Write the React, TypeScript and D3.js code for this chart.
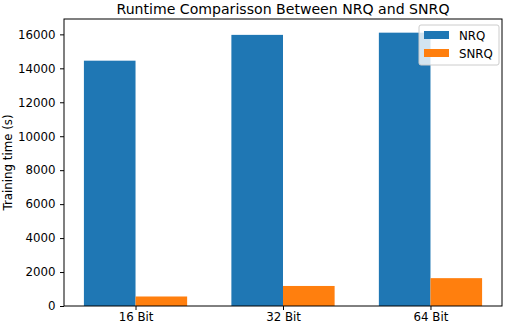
import React, { useEffect, useRef } from "react";
import * as d3 from "d3";

const categories = ["16 Bit", "32 Bit", "64 Bit"];
const series = ["NRQ", "SNRQ"];
const nrqValues = [14450, 15970, 16100];
const snrqValues = [560, 1180, 1640];
const yTicks = [0, 2000, 4000, 6000, 8000, 10000, 12000, 14000, 16000];
const colors = ["#1f77b4", "#ff7f0e"];

const W = 506;
const H = 326;
const FS = 11.8;

const App = () => {
  const ref = useRef<SVGSVGElement>(null);

  useEffect(() => {
    const svg = d3.select(ref.current);
    svg.selectAll("*").remove();

    const margin = { top: 19, right: 4, bottom: 20, left: 64 };
    const innerW = W - margin.left - margin.right;
    const innerH = H - margin.top - margin.bottom;
    const barW = 0.35;

    const x = d3.scaleLinear().domain([-0.485, 2.485]).range([0, innerW]);
    const y = d3.scaleLinear().domain([0, 16905]).range([innerH, 0]);

    const g = svg
      .append("g")
      .attr("transform", `translate(${margin.left},${margin.top})`);

    const allSeries = [nrqValues, snrqValues];
    allSeries.forEach((vals, s) => {
      g.selectAll(null)
        .data(vals)
        .enter()
        .append("rect")
        .attr("x", (_, i) => x(i - barW + s * barW))
        .attr("width", x(barW) - x(0))
        .attr("y", (d) => y(d))
        .attr("height", (d) => innerH - y(d))
        .attr("fill", colors[s]);
    });

    // y axis
    const yAxis = g
      .append("g")
      .call(d3.axisLeft(y).tickValues(yTicks).tickSize(4).tickPadding(4.5).tickFormat(d3.format("d")));
    yAxis.select(".domain").remove();

    // x axis
    const xAxis = g
      .append("g")
      .attr("transform", `translate(0,${innerH})`)
      .call(
        d3
          .axisBottom(x)
          .tickValues([0, 1, 2])
          .tickSize(4)
          .tickPadding(3)
          .tickFormat((d) => categories[d as number])
      );
    xAxis.select(".domain").remove();

    [yAxis, xAxis].forEach((a) => {
      a.selectAll("text")
        .attr("font-family", "DejaVu Sans")
        .attr("font-size", FS)
        .attr("fill", "#000");
      a.selectAll("line").attr("stroke", "#000").attr("stroke-width", 1);
    });

    // frame
    g.append("rect")
      .attr("x", 0)
      .attr("y", 0)
      .attr("width", innerW)
      .attr("height", innerH)
      .attr("fill", "none")
      .attr("stroke", "#000")
      .attr("stroke-width", 1);

    // title
    svg
      .append("text")
      .attr("x", margin.left + innerW / 2)
      .attr("y", 14)
      .attr("text-anchor", "middle")
      .attr("font-family", "DejaVu Sans")
      .attr("font-size", 14.1)
      .text("Runtime Comparisson Between NRQ and SNRQ");

    // y label
    svg
      .append("text")
      .attr("transform", `translate(11.5,${margin.top + innerH / 2}) rotate(-90)`)
      .attr("text-anchor", "middle")
      .attr("font-family", "DejaVu Sans")
      .attr("font-size", FS)
      .text("Training time (s)");

    // legend
    const lg = svg.append("g").attr("transform", "translate(419,25)");
    lg.append("rect")
      .attr("width", 80)
      .attr("height", 40)
      .attr("rx", 2)
      .attr("fill", "#fff")
      .attr("fill-opacity", 0.8)
      .attr("stroke", "#ccc")
      .attr("stroke-width", 1);
    series.forEach((name, i) => {
      lg.append("rect")
        .attr("x", 5)
        .attr("y", 6 + i * 18)
        .attr("width", 25)
        .attr("height", 8)
        .attr("fill", colors[i]);
      lg.append("text")
        .attr("x", 40)
        .attr("y", 14.5 + i * 18)
        .attr("font-family", "DejaVu Sans")
        .attr("font-size", FS)
        .text(name);
    });
  }, []);

  return (
    <svg
      ref={ref}
      width={W}
      height={H}
      style={{ position: "absolute", left: 0, top: 0, background: "#fff" }}
    />
  );
};

export default App;
